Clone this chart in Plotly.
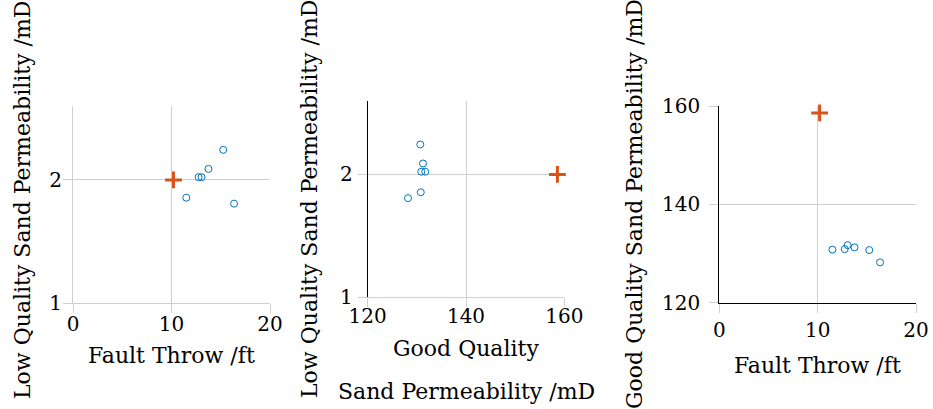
import plotly.graph_objects as go

# Sampled wells: fault throw and sand permeabilities
fault_throw = [11.5, 12.75, 13.05, 13.75, 15.25, 16.35]
low_perm = [1.855, 2.022, 2.022, 2.089, 2.244, 1.807]
good_perm = [130.8, 130.9, 131.7, 131.25, 130.7, 128.2]

# Reference case
ref_throw = [10.2]
ref_low = [2.0]
ref_good = [158.6]

throw_ticks = [0, 10, 20]
low_ticks = [1, 2]
good_ticks = [120, 140, 160]

W, H = 933, 409
FONT = "DejaVu Serif"
TICK_FS = 20
TITLE_FS = 22
BLUE = "#0072BD"
ORANGE = "#D95319"
GRID = "#cfcfcf"


def px_x(p):
    return p / W


def px_y(p):
    return 1 - p / H


fig = go.Figure()

panels = [
    ("x", "y", fault_throw, low_perm, ref_throw, ref_low),
    ("x2", "y2", good_perm, low_perm, ref_good, ref_low),
    ("x3", "y3", fault_throw, good_perm, ref_throw, ref_good),
]
for xa, ya, xs, ys, rx, ry in panels:
    fig.add_trace(go.Scatter(
        x=xs, y=ys, xaxis=xa, yaxis=ya, mode="markers",
        marker=dict(symbol="circle-open", size=7, color=BLUE,
                    line=dict(width=1, color=BLUE)),
        showlegend=False, hoverinfo="skip", cliponaxis=False))
    fig.add_trace(go.Scatter(
        x=rx, y=ry, xaxis=xa, yaxis=ya, mode="markers",
        marker=dict(symbol="cross-thin-open", size=12, color=ORANGE,
                    line=dict(width=3, color=ORANGE)),
        showlegend=False, hoverinfo="skip", cliponaxis=False))


def axis(domain, rng, ticks, anchor, line_color=None, standoff=0):
    d = dict(
        domain=domain, range=rng, tickvals=ticks, anchor=anchor,
        automargin=False,
        showgrid=True, gridcolor=GRID, gridwidth=1, zeroline=False,
        ticks="outside", ticklen=9, tickcolor=GRID, tickwidth=1,
        tickfont=dict(family=FONT, size=TICK_FS, color="black"),
        ticklabelstandoff=standoff, fixedrange=True,
    )
    if line_color:
        d.update(showline=True, linecolor=line_color, linewidth=1)
    else:
        d.update(showline=False)
    return d


fig.update_layout(
    template="none",
    width=W, height=H,
    margin=dict(l=0, r=0, t=0, b=0, pad=0),
    paper_bgcolor="white", plot_bgcolor="white",
    xaxis=axis([px_x(73), px_x(270)], [0, 20], throw_ticks, "y", GRID, -6),
    yaxis=axis([px_y(303), px_y(106)], [1, 2.6], low_ticks, "x", GRID, -3),
    xaxis2=axis([px_x(367.7), px_x(564.3)], [120, 160], good_ticks, "y2", GRID, -8),
    yaxis2=axis([px_y(297.3), px_y(100.7)], [1, 2.6], low_ticks, "x2", "black", 1),
    xaxis3=axis([px_x(719.3), px_x(916)], [0, 20], throw_ticks, "y3", "black", 0),
    yaxis3=axis([px_y(302.7), px_y(106)], [120, 160], good_ticks, "x3", "black", 5),
)

title_font = dict(family=FONT, size=TITLE_FS, color="black")
titles = [
    ("Fault Throw /ft", 171.5, 355, 0),
    ("Good Quality", 466, 348, 0),
    ("Sand Permeability /mD", 466, 391, 0),
    ("Fault Throw /ft", 817.7, 365, 0),
    ("Low Quality Sand Permeability /mD", 22, 200, -90),
    ("Low Quality Sand Permeability /mD", 309, 199, -90),
    ("Good Quality Sand Permeability /mD", 634, 204, -90),
]
for text, x, y, ang in titles:
    fig.add_annotation(
        text=text, x=px_x(x), y=px_y(y), xref="paper", yref="paper",
        xanchor="center", yanchor="middle", showarrow=False,
        textangle=ang, font=title_font)

fig.write_html("out.html")
